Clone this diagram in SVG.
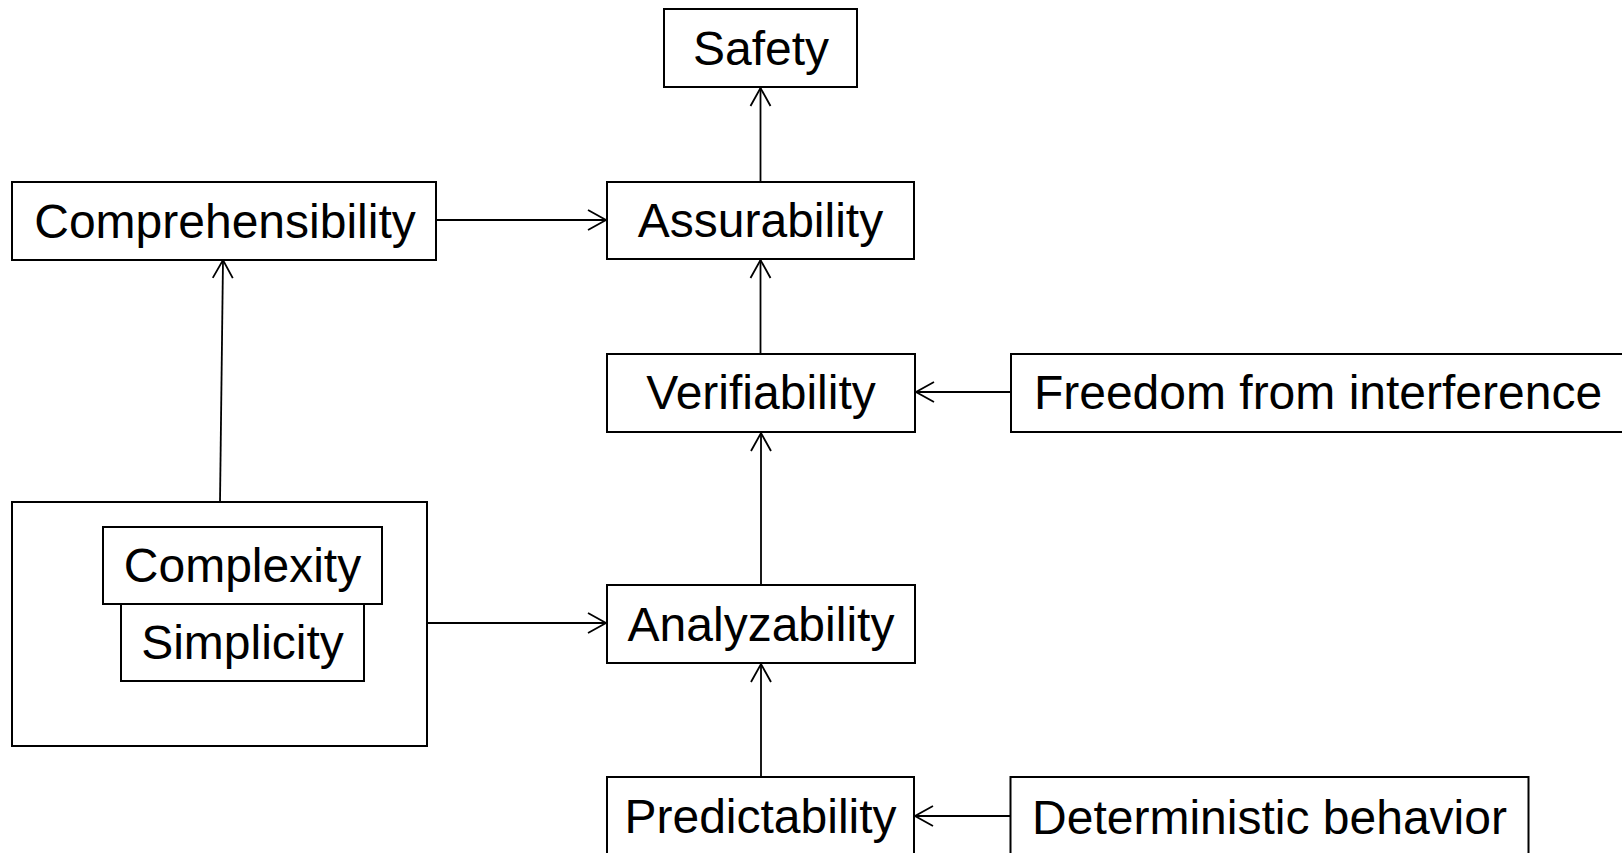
<svg xmlns="http://www.w3.org/2000/svg" width="1622" height="853" viewBox="0 0 1622 853">
  <style>
    .box { fill: #ffffff; stroke: #000000; stroke-width: 2; }
    .label { font-family: "Liberation Sans", Arial, sans-serif; font-size: 48px; fill: #000000; text-anchor: middle; }
    .link { fill: none; stroke: #000000; stroke-width: 1.8; }
  </style>
  <defs>
    <marker id="open-arrow" markerUnits="userSpaceOnUse" markerWidth="24" markerHeight="24" viewBox="-20 -12 22 24" refX="0" refY="0" orient="auto">
      <path d="M -18 -10 L 0 0 L -18 10" fill="none" stroke="#000000" stroke-width="1.8"/>
    </marker>
  </defs>
  <rect width="1622" height="853" fill="#ffffff"/>

  <!-- connectors -->
  <g id="connectors">
    <line class="link" x1="760.5" y1="182" x2="760.5" y2="88" marker-end="url(#open-arrow)"/>
    <line class="link" x1="436" y1="220" x2="606" y2="220" marker-end="url(#open-arrow)"/>
    <line class="link" x1="760.5" y1="354" x2="760.5" y2="260" marker-end="url(#open-arrow)"/>
    <line class="link" x1="1011" y1="392" x2="916" y2="392" marker-end="url(#open-arrow)"/>
    <line class="link" x1="761" y1="585" x2="761" y2="433" marker-end="url(#open-arrow)"/>
    <line class="link" x1="220" y1="502" x2="223" y2="260" marker-end="url(#open-arrow)"/>
    <line class="link" x1="427" y1="623" x2="606" y2="623" marker-end="url(#open-arrow)"/>
    <line class="link" x1="1010.5" y1="816" x2="915" y2="816" marker-end="url(#open-arrow)"/>
    <line class="link" x1="761" y1="777" x2="761" y2="664" marker-end="url(#open-arrow)"/>
  </g>

  <g id="safety">
    <rect class="box" x="664" y="9" width="193" height="78"/>
    <text class="label" x="761" y="65">Safety</text>
  </g>

  <g id="assurability">
    <rect class="box" x="607" y="182" width="307" height="77"/>
    <text class="label" x="760.5" y="237">Assurability</text>
  </g>

  <g id="comprehensibility">
    <rect class="box" x="12" y="182" width="424" height="78"/>
    <text class="label" x="225" y="238">Comprehensibility</text>
  </g>

  <g id="verifiability">
    <rect class="box" x="607" y="354" width="308" height="78"/>
    <text class="label" x="761" y="409">Verifiability</text>
  </g>

  <g id="freedom-from-interference">
    <rect class="box" x="1011" y="354" width="620" height="78"/>
    <text class="label" x="1318" y="409">Freedom from interference</text>
  </g>

  <g id="complexity-simplicity">
    <rect class="box" x="12" y="502" width="415" height="244"/>
    <g id="complexity">
      <rect class="box" x="103" y="527" width="279" height="77"/>
      <text class="label" x="242.5" y="582">Complexity</text>
    </g>
    <g id="simplicity">
      <rect class="box" x="121" y="604" width="243" height="77"/>
      <text class="label" x="242.5" y="659">Simplicity</text>
    </g>
  </g>

  <g id="analyzability">
    <rect class="box" x="607" y="585" width="308" height="78"/>
    <text class="label" x="761" y="641">Analyzability</text>
  </g>

  <g id="predictability">
    <rect class="box" x="607" y="777" width="307" height="90"/>
    <text class="label" x="760.5" y="833">Predictability</text>
  </g>

  <g id="deterministic-behavior">
    <rect class="box" x="1010.5" y="777" width="518" height="90"/>
    <text class="label" x="1269.5" y="834">Deterministic behavior</text>
  </g>
</svg>
